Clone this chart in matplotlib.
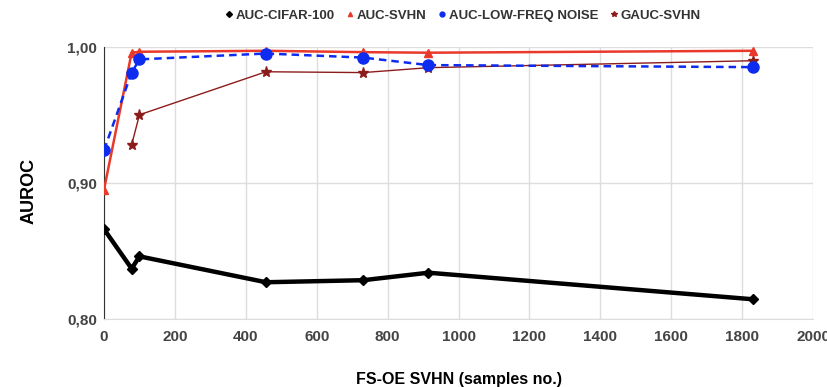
import matplotlib
matplotlib.use('Agg')
import matplotlib.pyplot as plt
from matplotlib.lines import Line2D
from matplotlib import font_manager

plt.rcParams['font.family'] = ['Liberation Sans', 'DejaVu Sans']

samples = [0, 78, 100, 457, 731, 915, 1830]
auc_cifar = [0.866, 0.837, 0.846, 0.827, 0.8285, 0.834, 0.8145]
auc_svhn = [0.895, 0.9956, 0.9963, 0.997, 0.996, 0.9956, 0.997]
auc_lowfreq = [0.924, 0.981, 0.9907, 0.995, 0.992, 0.9865, 0.985]
gauc_samples = [78, 100, 457, 731, 915, 1830]
gauc_svhn = [0.928, 0.950, 0.9816, 0.981, 0.9846, 0.9897]

names = ['AUC-CIFAR-100', 'AUC-SVHN', 'AUC-LOW-FREQ NOISE', 'GAUC-SVHN']

fig = plt.figure(figsize=(8.28, 3.87), dpi=100)
ax = fig.add_axes([0.1256, 0.1757, 0.982 - 0.1256, 0.8793 - 0.1757])

ax.plot(samples, auc_cifar, color='black', lw=3.2, marker='D', ms=5, zorder=3)
ax.plot(samples, auc_svhn, color='#e8392b', lw=1.8, marker='^', ms=6, zorder=4)
ax.plot(samples, auc_lowfreq, color='#0d2cf0', lw=1.8, ls=(0, (3, 2)),
        marker='o', ms=8, zorder=5)
ax.plot(gauc_samples, gauc_svhn, color='#8c1c1c', lw=1.0, marker='*', ms=8, zorder=3)

ax.set_xlim(0, 2000)
ax.set_ylim(0.80, 1.00)
ax.set_xticks(range(0, 2001, 200))
ax.set_yticks([0.80, 0.90, 1.00])
ax.set_yticklabels(['0,80', '0,90', '1,00'])
ax.grid(True, color='#dddddd', lw=1)
ax.set_axisbelow(True)
for s in ['top', 'right']:
    ax.spines[s].set_visible(False)
ax.spines['bottom'].set_color('#dddddd')
ax.spines['left'].set_color('#333333')
ax.tick_params(axis='x', length=0, labelsize=11, labelcolor='#444444', pad=8)
ax.tick_params(axis='y', length=0, labelsize=11, labelcolor='#444444', pad=5)
for lab in ax.get_xticklabels() + ax.get_yticklabels():
    lab.set_fontweight('bold')

ax.set_xlabel('FS-OE SVHN (samples no.)', fontsize=11.5, fontweight='bold', labelpad=20)
ax.set_ylabel('AUROC', fontsize=13, fontweight='bold', labelpad=21)
ax.yaxis.label.set_y(0.47)

handles = [
    Line2D([], [], color='black', marker='D', ms=3, ls='none'),
    Line2D([], [], color='#e8392b', marker='^', ms=3, ls='none'),
    Line2D([], [], color='#0d2cf0', marker='o', ms=3.5, ls='none'),
    Line2D([], [], color='#8c1c1c', marker='*', ms=4, ls='none'),
]
fp = font_manager.FontProperties(family=['Liberation Sans'], weight='bold', size=9.5)
leg = fig.legend(handles, names, loc='center', bbox_to_anchor=(0.559, 0.96), ncol=4,
                 frameon=False, handlelength=0.6, handletextpad=0.2,
                 columnspacing=0.9, prop=fp)
for t in leg.get_texts():
    t.set_color('#333333')

fig.savefig('out.png', dpi=100)
